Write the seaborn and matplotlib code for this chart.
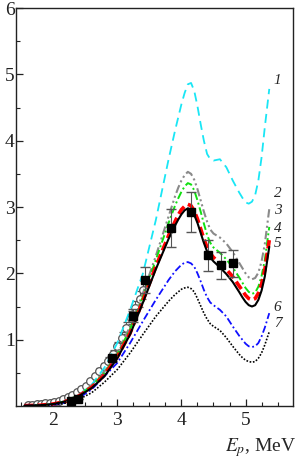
import matplotlib
matplotlib.use("Agg")

import matplotlib.pyplot as plt
import numpy as np
import seaborn as sns

# ─────────────────────────────────────────────
# Data
# ─────────────────────────────────────────────
energy = [1.55, 1.8, 2.0, 2.2, 2.4, 2.6, 2.8, 3.0, 3.2, 3.4, 3.6, 3.8, 3.9,
          3.95, 4.0, 4.05, 4.1, 4.15, 4.2, 4.25, 4.3, 4.35, 4.4, 4.45, 4.5,
          4.6, 4.7, 4.8, 4.9, 4.95, 5.0, 5.05, 5.1, 5.15, 5.2, 5.25, 5.3,
          5.37]

curve_1 = [0.005, 0.012, 0.03, 0.07, 0.16, 0.32, 0.58, 0.95, 1.45, 2.0, 2.8,
           3.72, 4.15, 4.35, 4.55, 4.72, 4.85, 4.87, 4.75, 4.52, 4.25, 4.0,
           3.8, 3.72, 3.7, 3.72, 3.6, 3.4, 3.22, 3.14, 3.07, 3.05, 3.08, 3.18,
           3.4, 3.75, 4.2, 4.78]
curve_2 = [0.005, 0.014, 0.035, 0.08, 0.17, 0.31, 0.52, 0.8, 1.2, 1.7, 2.26,
           2.86, 3.16, 3.29, 3.4, 3.48, 3.53, 3.5, 3.41, 3.27, 3.1, 2.93, 2.78,
           2.66, 2.6, 2.54, 2.45, 2.32, 2.16, 2.08, 2.0, 1.94, 1.91, 1.93,
           2.01, 2.18, 2.44, 2.97]
curve_3 = [0.005, 0.013, 0.03, 0.075, 0.16, 0.3, 0.5, 0.78, 1.16, 1.65, 2.2,
           2.76, 3.02, 3.13, 3.23, 3.31, 3.36, 3.34, 3.25, 3.1, 2.93, 2.75,
           2.58, 2.46, 2.39, 2.31, 2.21, 2.09, 1.94, 1.86, 1.78, 1.72, 1.69,
           1.71, 1.8, 1.96, 2.2, 2.7]
curve_4 = [0.005, 0.012, 0.03, 0.07, 0.15, 0.28, 0.47, 0.74, 1.1, 1.59, 2.1,
           2.57, 2.78, 2.88, 2.96, 3.01, 3.04, 3.02, 2.94, 2.82, 2.67, 2.52,
           2.39, 2.3, 2.24, 2.15, 2.06, 1.95, 1.81, 1.74, 1.67, 1.62, 1.6,
           1.62, 1.7, 1.84, 2.05, 2.5]
curve_5 = [0.005, 0.012, 0.03, 0.07, 0.15, 0.27, 0.45, 0.72, 1.08, 1.56, 2.06,
           2.52, 2.72, 2.81, 2.89, 2.95, 2.98, 2.96, 2.88, 2.76, 2.61, 2.46,
           2.33, 2.24, 2.18, 2.09, 1.99, 1.87, 1.72, 1.64, 1.57, 1.52, 1.5,
           1.52, 1.6, 1.74, 1.95, 2.4]
curve_6 = [0.003, 0.008, 0.02, 0.05, 0.12, 0.25, 0.45, 0.65, 0.95, 1.28, 1.6,
           1.9, 2.03, 2.08, 2.13, 2.16, 2.17, 2.15, 2.1, 2.0, 1.88, 1.75,
           1.64, 1.56, 1.52, 1.45, 1.35, 1.2, 1.06, 1.0, 0.94, 0.9, 0.89, 0.9,
           0.95, 1.05, 1.18, 1.4]
curve_7 = [0.003, 0.007, 0.018, 0.045, 0.1, 0.2, 0.36, 0.55, 0.8, 1.08, 1.35,
           1.58, 1.68, 1.72, 1.76, 1.78, 1.79, 1.77, 1.72, 1.62, 1.51, 1.4,
           1.31, 1.24, 1.2, 1.14, 1.03, 0.9, 0.78, 0.73, 0.69, 0.67, 0.66,
           0.67, 0.72, 0.8, 0.92, 1.12]

# experiment, open circles
circ_x = [1.6, 1.67, 1.74, 1.81, 1.88, 1.95, 2.02, 2.09, 2.16, 2.23, 2.3,
          2.37, 2.44, 2.51, 2.58, 2.65, 2.72, 2.79, 2.86, 2.93, 3.0, 3.07,
          3.14, 3.21, 3.28, 3.35, 3.4]
circ_y = [0.02, 0.02, 0.03, 0.03, 0.04, 0.05, 0.06, 0.08, 0.1, 0.13, 0.17,
          0.21, 0.25, 0.3, 0.37, 0.45, 0.53, 0.6, 0.68, 0.78, 0.9, 1.03,
          1.18, 1.33, 1.48, 1.62, 1.75]
circ_err = [0, 0, 0, 0, 0, 0, 0, 0, 0, 0, 0, 0, 0, 0, 0, 0, 0.04, 0.05, 0.06,
            0.06, 0.07, 0.08, 0.09, 0.1, 0.1, 0.12, 0.13]

# experiment, filled squares
sq_x = [2.27, 2.38, 2.92, 3.24, 3.43, 3.84, 4.15, 4.42, 4.62, 4.81]
sq_y = [0.08, 0.1, 0.72, 1.36, 1.9, 2.68, 2.92, 2.27, 2.12, 2.15]
sq_err = [0.0, 0.0, 0.04, 0.1, 0.2, 0.29, 0.3, 0.23, 0.2, 0.2]

curve_labels = ["1", "2", "3", "4", "5", "6", "7"]
label_y = [4.91, 3.21, 2.95, 2.68, 2.45, 1.49, 1.25]

sns.set_theme(style="ticks")
plt.rcParams.update({
    "font.family": ["Liberation Serif", "DejaVu Serif"],
    "mathtext.fontset": "stix",
    "xtick.direction": "in",
    "ytick.direction": "in",
    "axes.linewidth": 1.0,
    "axes.edgecolor": "#222222",
})

fig = plt.figure(figsize=(2.98, 4.63), dpi=100)
ax = fig.add_axes([16 / 298, 57 / 463, 277 / 298, 398 / 463])

styles = [
    (curve_1, "#19E6F5", 1.3, (0, (5, 3))),
    (curve_2, "#8A8A8A", 1.5, (0, (4, 1.5, 1, 1.5, 1, 1.5))),
    (curve_3, "#10E010", 1.4, (0, (4, 1.5, 1, 1.5))),
    (curve_4, "#FF0000", 2.6, (0, (2.5, 1.2))),
    (curve_5, "#000000", 1.5, "-"),
    (curve_6, "#1010FF", 1.3, (0, (4, 1.5, 1, 1.5))),
    (curve_7, "#000000", 1.2, (0, (1, 1))),
]
for i, (vals, color, lw, ls) in enumerate(styles):
    sns.lineplot(x=energy, y=vals, ax=ax, color=color, linewidth=lw,
                 linestyle=ls, estimator=None, sort=False,
                 zorder=5 if i == 4 else 3)

ax.errorbar(circ_x, circ_y, yerr=circ_err, fmt="o", ms=5.5, mfc="white",
            mec="#555555", mew=0.9, ecolor="#555555", elinewidth=0.8,
            capsize=2, zorder=2)
ax.errorbar(sq_x, sq_y, yerr=sq_err, fmt="s", ms=5.5, mfc="black",
            mec="black", ecolor="#555555", elinewidth=0.8, capsize=3.5,
            zorder=6)

for lab, yy in zip(curve_labels, label_y):
    ax.text(5.5, yy, lab, fontsize=11, style="italic", ha="center",
            va="center")

ax.set_xlim(1.42, 5.74)
ax.set_ylim(0, 6)
ax.set_xticks([2, 3, 4, 5])
ax.set_yticks([1, 2, 3, 4, 5, 6])
ax.set_xticks(np.arange(1.5, 5.75, 0.25), minor=True)
ax.set_yticks(np.arange(0.5, 6, 0.5), minor=True)
ax.tick_params(which="major", length=5, width=0.9, labelsize=14,
               colors="#222222", pad=2)
ax.tick_params(which="minor", length=3, width=0.8, colors="#222222")
ax.tick_params(axis="y", pad=1)
ax.tick_params(axis="x", pad=4)
for side in ["top", "right"]:
    ax.spines[side].set_visible(True)

fig.text(0.995, 0.033, r"$E_p$, MeV", fontsize=14, ha="right", va="center")

fig.savefig("out.png", dpi=100)
